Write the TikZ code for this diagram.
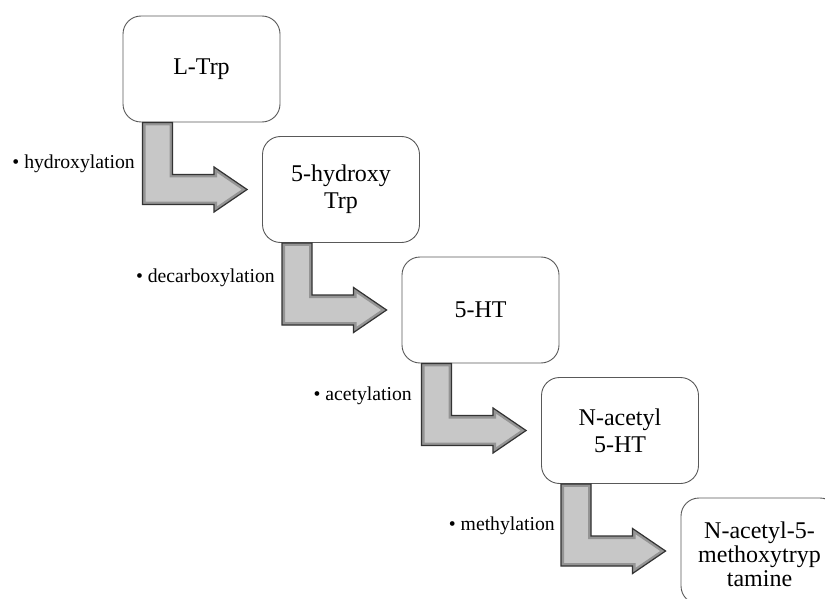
\documentclass[tikz,border=0pt]{standalone}
\usepackage{fontspec}
\setmainfont{Liberation Serif}
\usetikzlibrary{calc}

\tikzset{
  stagebox/.style={draw=black!65, line width=0.9pt, fill=white,
    rounded corners=18pt, minimum width=157pt, minimum height=106pt,
    align=center, inner sep=2pt, font=\fontsize{24}{27}\selectfont},
  steplabel/.style={anchor=base east, inner sep=0pt,
    font=\fontsize{19.7}{22}\selectfont},
  arrowfill/.style={fill=black!22},
  arrowbevel/.style={draw=black!42, line width=6pt, line join=miter},
  arrowedge/.style={draw=black!80, line width=1.2pt, line join=miter}
}

% Outline of the bent block arrow from the bottom of box #1 to the left of box #2
\newcommand\bentpath[2]{($(#1.south west)+(20,0)$) -- ++(30,0)
  |- ($(#2.west)+(-48,15)$) -- ++(0,7.5) -- ($(#2.west)+(-15,0)$)
  -- ($(#2.west)+(-48,-22.5)$) -- ++(0,7.5)
  -| ($(#1.south west)+(20,0)$) -- cycle}

\newcommand\bentarrow[2]{%
  \begin{scope}
    \clip \bentpath{#1}{#2};
    \path[arrowfill] \bentpath{#1}{#2};
    \path[arrowbevel] \bentpath{#1}{#2};
  \end{scope}
  \path[arrowedge] \bentpath{#1}{#2};
}

\begin{document}
\begin{tikzpicture}[x=1pt, y=1pt]
  \useasboundingbox (0,0) rectangle (825,-599);
  \clip (0,0) rectangle (825,-599);

  % pathway stages
  \node[stagebox] (trp)  at (201.5,-69)   {L-Trp};
  \node[stagebox] (htrp) at (341,-189.5)  {5-hydroxy\\Trp};
  \node[stagebox] (ht)   at (480.5,-310)  {5-HT};
  \node[stagebox] (naht) at (620,-430.5)  {N-acetyl\\5-HT};
  \node[stagebox, font=\fontsize{24}{24}\selectfont] (mel) at (759.5,-551)
    {\rule{0pt}{24pt}N-acetyl-5-\\methoxytryp\\tamine};

  % conversion arrows
  \bentarrow{trp}{htrp}
  \bentarrow{htrp}{ht}
  \bentarrow{ht}{naht}
  \bentarrow{naht}{mel}

  % reaction labels
  \node[steplabel] (l1) at (135,-169) {• hydroxylation};
  \node[steplabel] (l2) at (275,-282) {• decarboxylation};
  \node[steplabel] (l3) at (412,-400) {• acetylation};
  \node[steplabel] (l4) at (555,-530) {• methylation};
\end{tikzpicture}
\end{document}
